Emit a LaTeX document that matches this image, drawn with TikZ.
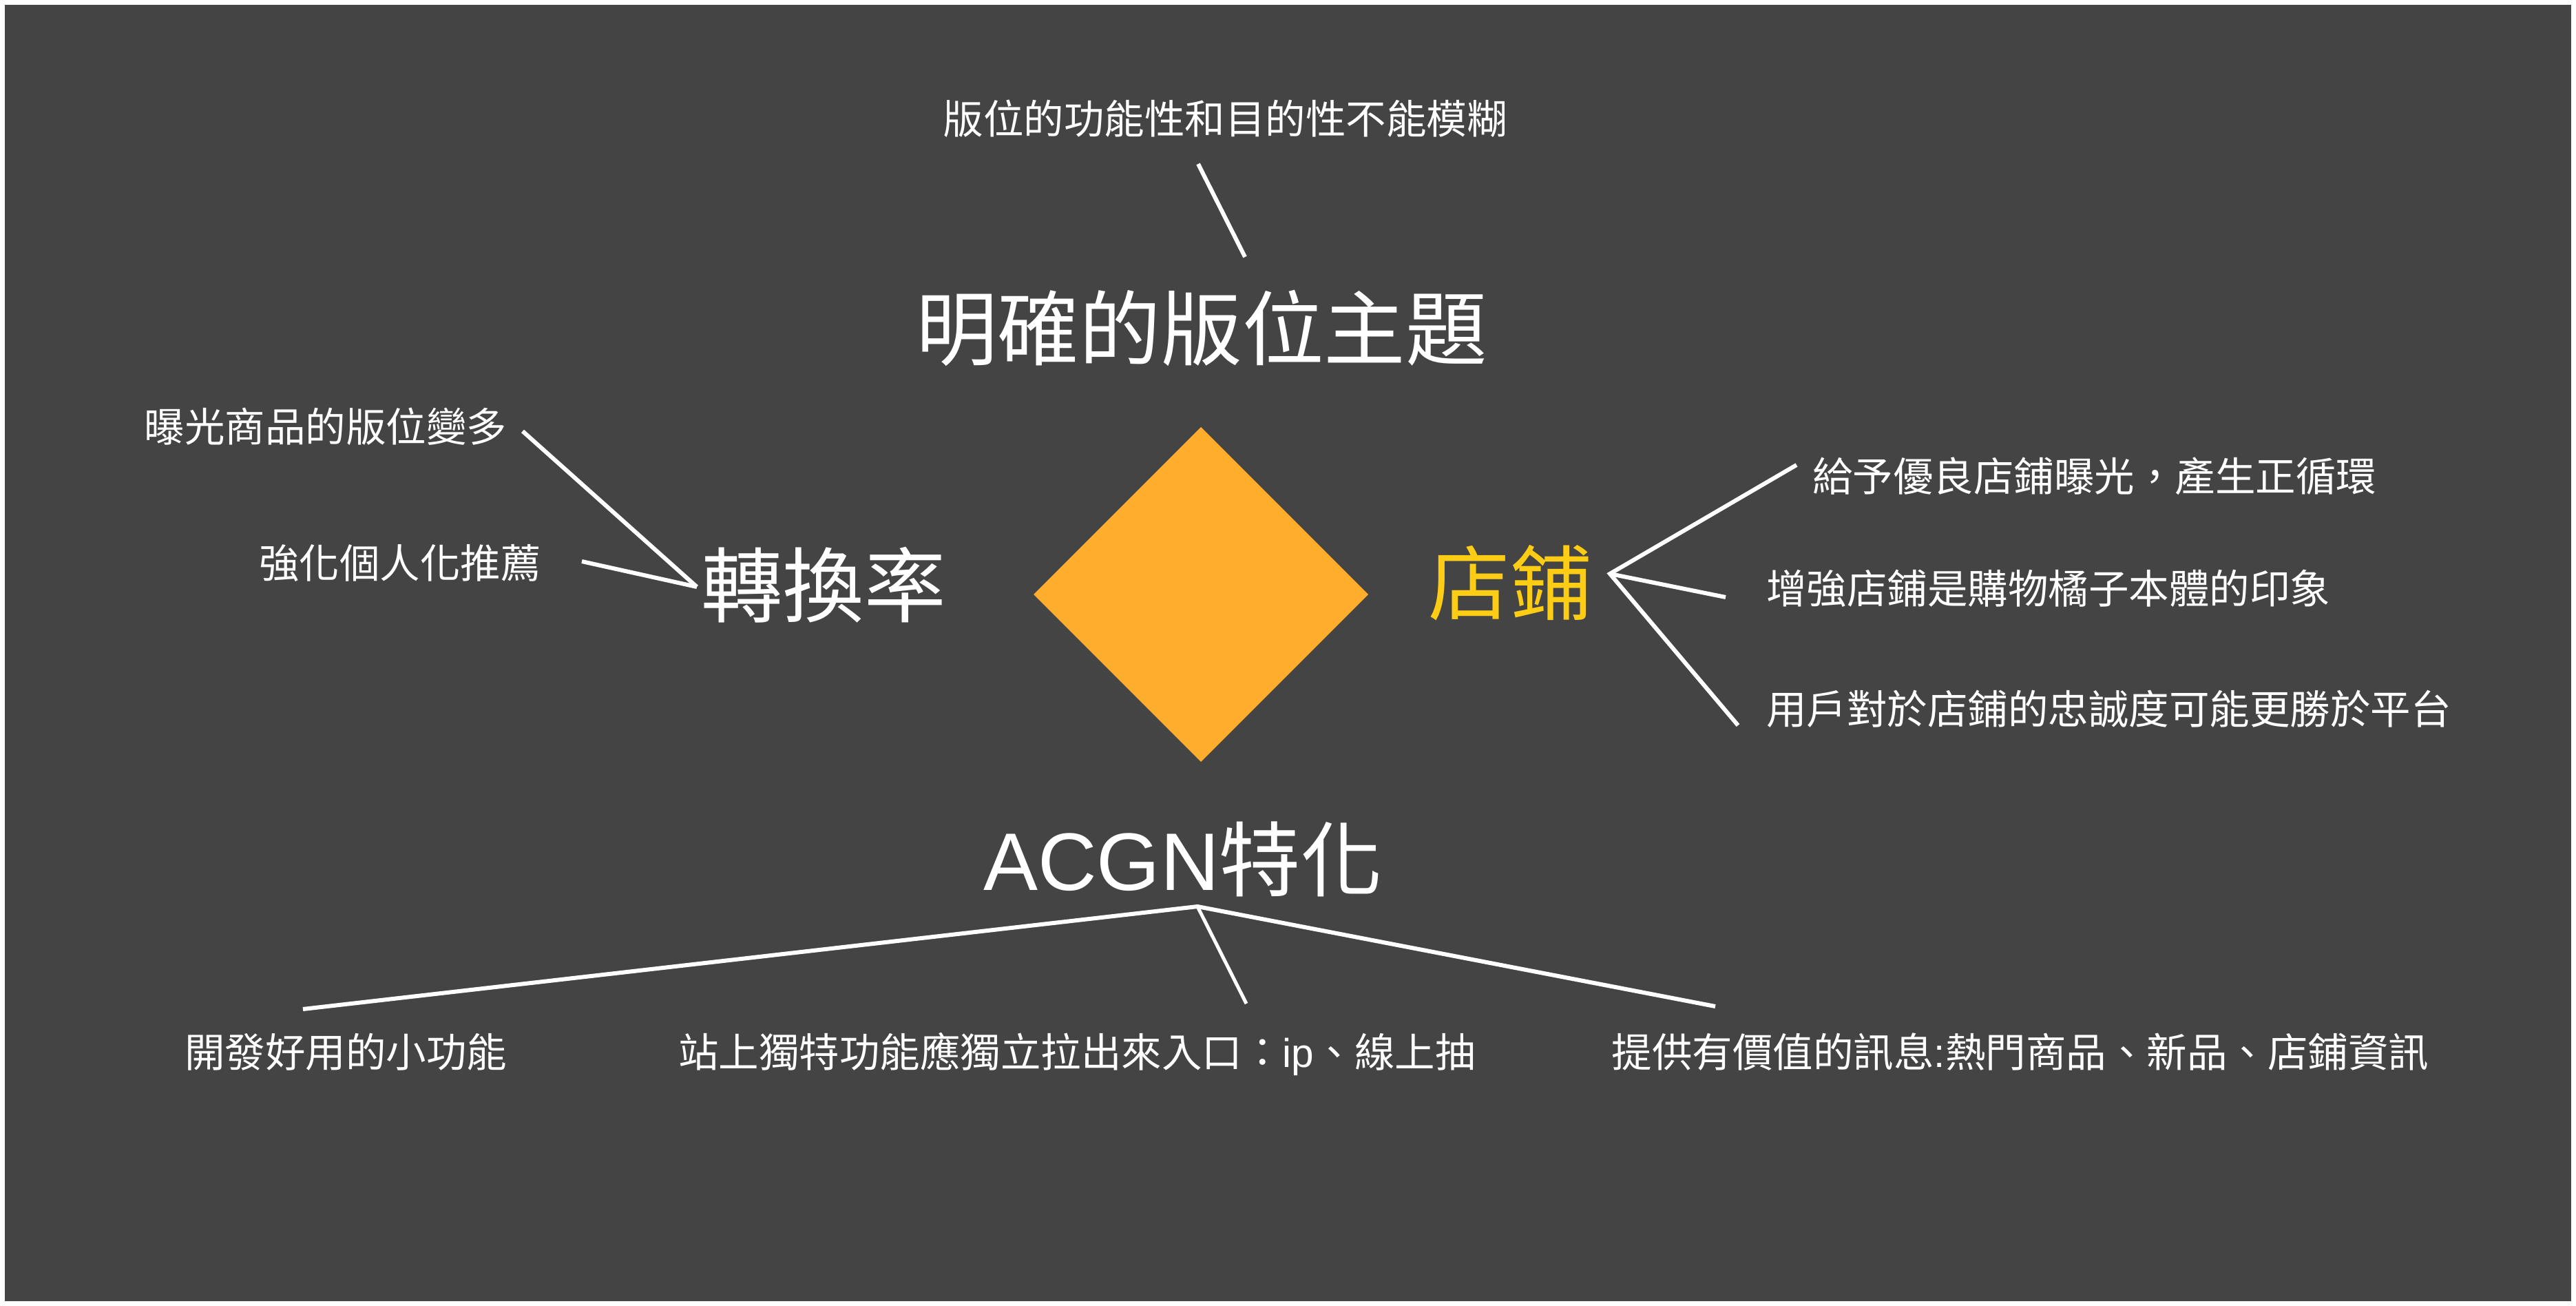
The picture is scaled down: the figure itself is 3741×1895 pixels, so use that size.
\documentclass[tikz,border=0pt]{standalone}
\usepackage{fontspec}
\setmainfont{Noto Sans CJK TC}
\newfontfamily\latinfont{Liberation Sans}
\definecolor{bggray}{HTML}{444444}
\definecolor{diaorange}{HTML}{FEAE2C}
\definecolor{shopyellow}{HTML}{FDCD16}
\begin{document}
\begin{tikzpicture}[x=1pt,y=-1pt,
  small/.style={text=white,inner sep=0pt,anchor=base,font=\fontsize{58.5}{70}\selectfont},
  big/.style={text=white,inner sep=0pt,anchor=base,font=\fontsize{118.5}{140}\selectfont},
  link/.style={draw=white,line width=6pt}]
\useasboundingbox (0,0) rectangle (3741,1895);
\fill[white] (0,0) rectangle (3741,1895);
\fill[bggray] (7,7) rectangle (3734,1889);
% diamond
\fill[diaorange] (1744,620) -- (1987,863) -- (1744,1106) -- (1501,863) -- cycle;
% texts
\node[small] (topnote) at (1779,194) {版位的功能性和目的性不能模糊};
\node[big] (theme) at (1745,521) {明確的版位主題};
\node[small] (l1) at (473,641) {曝光商品的版位變多};
\node[small] (l2) at (581,839) {強化個人化推薦};
\node[big] (conv) at (1196,894) {轉換率};
\node[big,text=shopyellow] (shop) at (2193,891) {店鋪};
\node[small,anchor=base west] (r1) at (2632,713) {給予優良店鋪曝光，產生正循環};
\node[small,anchor=base west] (r2) at (2565,876) {增強店鋪是購物橘子本體的印象};
\node[small,anchor=base west] (r3) at (2565,1051) {用戶對於店鋪的忠誠度可能更勝於平台};
\node[big] (acgn) at (1718,1292) {{\latinfont ACGN}特化};
\node[small] (b1) at (502,1549) {開發好用的小功能};
\node[small] (b2) at (1564,1549) {站上獨特功能應獨立拉出來入口：{\latinfont ip}、線上抽};
\node[small] (b3) at (2934,1549) {提供有價值的訊息{\latinfont :}熱門商品、新品、店鋪資訊};
% connector endpoints
\coordinate (tA) at (1740,238);
\coordinate (tB) at (1808,373);
\coordinate (cl) at (1012,852);
\coordinate (l1e) at (759,626);
\coordinate (l2e) at (845,815);
\coordinate (sr) at (2338,833);
\coordinate (r1e) at (2609,675);
\coordinate (r2e) at (2506,867);
\coordinate (r3e) at (2524,1053);
\coordinate (ap) at (1739,1316);
\coordinate (b1e) at (440,1465);
\coordinate (b2e) at (1810,1457);
\coordinate (b3e) at (2491,1461);
% connectors
\draw[link] (tA) -- (tB);
\draw[link] (l1e) -- (cl);
\draw[link] (l2e) -- (cl);
\draw[link] (r1e) -- (sr) -- (r3e);
\draw[link] (sr) -- (r2e);
\draw[link] (b1e) -- (ap) -- (b3e);
\draw[link,line width=5pt] (ap) -- (b2e);
\end{tikzpicture}
\end{document}
